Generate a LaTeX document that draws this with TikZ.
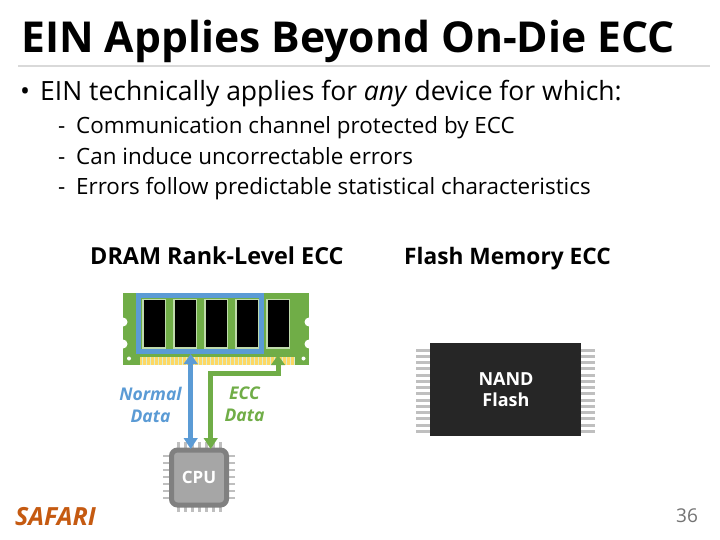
\documentclass[tikz,border=0pt]{standalone}
\usepackage{fontspec}
\setmainfont{Open Sans}
\usetikzlibrary{arrows.meta}
\definecolor{dblue}{HTML}{5B9BD5}
\definecolor{dgreen}{HTML}{70AD47}
\definecolor{pingray}{HTML}{BFBFBF}
\definecolor{safari}{HTML}{C55A11}
\definecolor{ink}{HTML}{262626}
\tikzset{
  txt/.style={inner sep=0pt,anchor=base west,text=black},
  ctr/.style={inner sep=0pt,align=center,anchor=center},
  chipbox/.style={draw=dgreen!45!white,line width=1.4pt,fill=black,minimum width=22.5pt,minimum height=48.5pt,inner sep=0pt},
  pin/.style={pingray,line width=3pt},
  cpin/.style={pingray,line width=2.4pt},
  conn2/.style={line width=5pt,{Triangle[length=10pt,width=13.5pt]}-{Triangle[length=11pt,width=13.5pt]}},
  sub/.style={txt,font=\fontsize{22.4}{22.4}\selectfont},
  lbl/.style={ctr,font=\fontsize{17.5}{21.5}\selectfont\bfseries\itshape},
}
\begin{document}
\begin{tikzpicture}[x=1pt,y=-1pt]
\useasboundingbox[fill=white] (0,0) rectangle (720,540);
% title
\node[txt,font=\fontsize{42.6}{42.6}\selectfont\bfseries] (title) at (21,53) {EIN Applies Beyond On-Die ECC};
\fill[black!15] (18,65) rectangle (710,67.5);
% bullets
\node[txt,font=\fontsize{26.5}{26.5}\selectfont] (b0b) at (20,101) {•};
\node[txt,font=\fontsize{26.5}{26.5}\selectfont] (b0) at (40,101) {EIN technically applies for \textit{any} device for which:};
\node[sub] (d1) at (58,134) {-};
\node[sub] (b1) at (76,134) {Communication channel protected by ECC};
\node[sub] (d2) at (58,165) {-};
\node[sub] (b2) at (76,165) {Can induce uncorrectable errors};
\node[sub] (d3) at (58,195) {-};
\node[sub] (b3) at (76,195) {Errors follow predictable statistical characteristics};
% headers
\node[txt,font=\fontsize{23.4}{23.4}\selectfont\bfseries] (h1) at (90,264) {DRAM Rank-Level ECC};
\node[txt,font=\fontsize{22.7}{22.7}\selectfont\bfseries] (h2) at (404,264) {Flash Memory ECC};
% DIMM
\node[fill=dgreen,minimum width=186pt,minimum height=72pt,inner sep=0pt,anchor=north west] (dimm) at (123,293) {};
\foreach \y in {322,344}{
  \fill[white] (123,\y) circle (4.5);
  \fill[white] (309,\y) circle (4.5);
}
\fill[white] (129,358.5) circle (2);
\fill[white] (303.5,358.5) circle (2);
\fill[yellow!55!orange!60!white] (140,357) rectangle (295,365);
\foreach \i in {0,...,38}{
  \fill[dgreen!25!white] ({141.5+\i*4},357) rectangle ++(1.3,8);
}
\draw[dblue,line width=5pt] (138.5,295.5) rectangle (261.5,351.5);
\foreach \n/\x in {c1/154.2,c2/185.3,c3/216.3,c4/247.3,c5/278.2}{
  \node[chipbox] (\n) at (\x,323.7) {};
}
% CPU
\foreach \i in {0,...,6}{
  \draw[cpin] ({178.5+\i*7},442) -- ++(0,6);
  \draw[cpin] ({178.5+\i*7},506) -- ++(0,6);
  \draw[cpin] (163,{456+\i*7}) -- ++(6,0);
  \draw[cpin] (229,{456+\i*7}) -- ++(6,0);
}
\node[draw=black!50,line width=5pt,fill=black!35,rounded corners=6pt,minimum width=55pt,minimum height=55pt,inner sep=0pt,text=white,font=\fontsize{17}{17}\selectfont\bfseries] (cpu) at (199,477.5) {CPU};
% connectors
\coordinate (blueT) at (190.7,354);
\coordinate (blueB) at (190.7,449);
\coordinate (greenU) at (278,355);
\coordinate (greenD) at (210.7,449);
\draw[conn2,dblue] (blueT) -- (blueB);
\draw[conn2,dgreen] (greenU) -- (greenU |- 0,373) -- (greenD |- 0,373) -- (greenD);
% labels
\node[lbl,text=dblue] (nd) at (150.5,405) {Normal\\Data};
\node[lbl,text=dgreen] (ed) at (244.5,404) {ECC\\Data};
% NAND
\foreach \i in {0,...,13}{
  \draw[pin] (416,{350+\i*6.25}) -- (430,{350+\i*6.25});
  \draw[pin] (581,{350+\i*6.25}) -- (595,{350+\i*6.25});
}
\node[fill=ink,minimum width=151pt,minimum height=93pt,inner sep=0pt,anchor=north west] (nand) at (430,343) {};
\node[ctr,text=white,font=\fontsize{18}{21.5}\selectfont\bfseries] (nandt) at (506,389.5) {NAND\\Flash};
% footer
\node[txt,text=safari,font=\fontsize{25}{25}\selectfont\bfseries\itshape] (logo) at (15,525) {SAFARI};
\node[txt,text=black!55,font=\fontsize{19}{19}\selectfont] (pg) at (676,522) {36};
\end{tikzpicture}
\end{document}
